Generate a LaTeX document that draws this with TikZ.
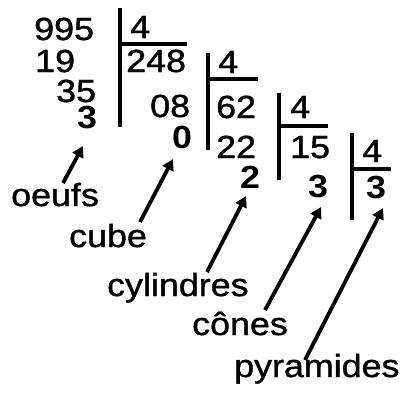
\documentclass[tikz,border=0pt]{standalone}
\usepackage{fontspec}
\setmainfont{Liberation Sans}[FakeStretch=1.12,UprightFeatures={FakeBold=1.2}]
\usetikzlibrary{arrows.meta}
\begin{document}
\begin{tikzpicture}[x=1pt,y=-1pt,
  txt/.style={inner sep=0pt,anchor=base west,font=\fontsize{32}{32}\selectfont},
  bnum/.style={txt,font=\fontsize{32}{32}\selectfont\bfseries},
  rule/.style={line width=4pt},
  ptr/.style={line width=3.8pt,-{Triangle[length=11pt,width=12pt]}}]
\useasboundingbox (0,0) rectangle (407,392);
% division 1
\node[txt] (n995) at (34,40) {995};
\node[txt] (d1) at (130,38) {4};
\node[txt] (n19) at (35,72) {19};
\node[txt] (n248) at (126,72) {248};
\node[txt] (n35) at (56,102) {35};
\node[bnum] (r1) at (77,128) {3};
\draw[rule] (120,8) -- (120,127);
\draw[rule] (120,44) -- (187,44);
% division 2
\node[txt] (n08) at (150,117) {08};
\node[bnum] (r2) at (172,148) {0};
\node[txt] (d2) at (218,73) {4};
\node[txt] (n62) at (216,118) {62};
\node[txt] (n22) at (216,158) {22};
\node[bnum] (r3) at (240,188) {2};
\draw[rule] (208,53) -- (208,150);
\draw[rule] (208,79) -- (258,79);
% division 3
\node[txt] (d3) at (290,118) {4};
\node[txt] (n15) at (290,158) {15};
\node[bnum] (r4) at (308,197) {3};
\draw[rule] (279,93) -- (279,180);
\draw[rule] (279,126) -- (328,126);
% division 4
\node[txt] (d4) at (362,162) {4};
\node[bnum] (r5) at (366,198) {3};
\draw[rule] (352,133) -- (352,220);
\draw[rule] (352,169) -- (391,169);
% labels
\node[txt] (oeufs) at (11,206) {oeufs};
\node[txt] (cube) at (69,247) {cube};
\node[txt] (cyl) at (107,296) {cylindres};
\node[txt] (cones) at (192,335) {cônes};
\node[txt] (pyr) at (234,377) {pyramides};
% arrow ends
\coordinate (t1) at (63,183); \coordinate (h1) at (83,146);
\coordinate (t2) at (140,222); \coordinate (h2) at (173,159);
\coordinate (t3) at (207,272); \coordinate (h3) at (246,196);
\coordinate (t4) at (265,310); \coordinate (h4) at (321,207);
\coordinate (t5) at (305,360); \coordinate (h5) at (383,208);
\draw[ptr] (t1) -- (h1);
\draw[ptr] (t2) -- (h2);
\draw[ptr] (t3) -- (h3);
\draw[ptr] (t4) -- (h4);
\draw[ptr] (t5) -- (h5);
\end{tikzpicture}
\end{document}
